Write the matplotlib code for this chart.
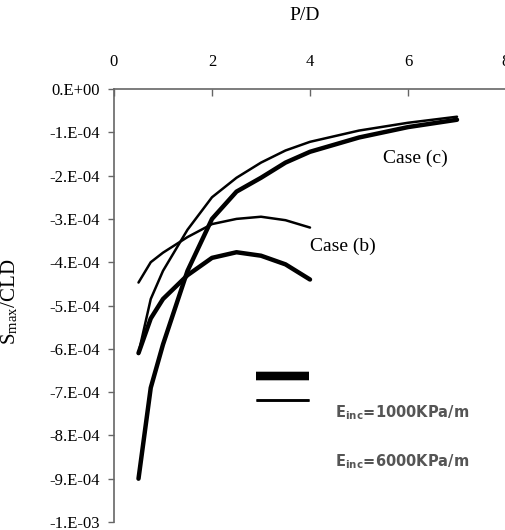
import numpy as np
import matplotlib
matplotlib.use("Agg")
from matplotlib import pyplot as plt
from matplotlib.lines import Line2D
from matplotlib.ticker import FuncFormatter

plt.rcParams['font.family'] = ['Liberation Serif', 'DejaVu Serif']
plt.rcParams['mathtext.fontset'] = 'stix'

# P/D values
pd_c = [0.5, 0.75, 1.0, 1.5, 2.0, 2.5, 3.0, 3.5, 4.0, 5.0, 6.0, 7.0]
pd_b = [0.5, 0.75, 1.0, 1.5, 2.0, 2.5, 3.0, 3.5, 4.0]

# Smax/CLD, case (c)
case_c_1000 = [-9.0e-4, -6.9e-4, -5.9e-4, -4.2e-4, -3.0e-4, -2.37e-4, -2.05e-4,
               -1.70e-4, -1.45e-4, -1.12e-4, -0.88e-4, -0.71e-4]
case_c_6000 = [-6.1e-4, -4.85e-4, -4.2e-4, -3.25e-4, -2.5e-4, -2.05e-4, -1.70e-4,
               -1.42e-4, -1.22e-4, -0.96e-4, -0.78e-4, -0.64e-4]
# Smax/CLD, case (b)
case_b_1000 = [-6.1e-4, -5.3e-4, -4.85e-4, -4.3e-4, -3.9e-4, -3.77e-4, -3.85e-4,
               -4.05e-4, -4.4e-4]
case_b_6000 = [-4.47e-4, -4.0e-4, -3.78e-4, -3.42e-4, -3.12e-4, -3.0e-4, -2.95e-4,
               -3.03e-4, -3.2e-4]

legend_labels = [r"E$_{\mathregular{inc}}$=1000KPa/m", r"E$_{\mathregular{inc}}$=6000KPa/m"]


def excel_sci(v, pos):
    if v == 0:
        return "0.E+00"
    e = int(np.floor(np.log10(abs(v)) + 1e-9))
    m = int(round(v / 10**e))
    return "{}.E{}{:02d}".format(m, "-" if e < 0 else "+", abs(e))


fig = plt.figure(figsize=(5.05, 5.30), dpi=100)
ax = fig.add_axes([114/505, 1 - 522/530, 392/505, 433/530])

thick = 3.2
thin = 1.8
ax.plot(pd_c, case_c_1000, color='black', lw=thick, solid_capstyle='round')
ax.plot(pd_c, case_c_6000, color='black', lw=thin, solid_capstyle='round')
ax.plot(pd_b, case_b_1000, color='black', lw=thick, solid_capstyle='round')
ax.plot(pd_b, case_b_6000, color='black', lw=thin, solid_capstyle='round')

ax.set_xlim(0, 8)
ax.set_ylim(-1e-3, 0)
ax.set_xticks([0, 2, 4, 6, 8])
ax.set_yticks(np.arange(0, -1.05e-3, -1e-4))
ax.yaxis.set_major_formatter(FuncFormatter(excel_sci))

ax.xaxis.tick_top()
ax.xaxis.set_label_position('top')
ax.set_xlabel("P/D", fontsize=14)
ax.xaxis.set_label_coords(0.487, 1.159)
ax.tick_params(axis='x', direction='in', length=5, width=1, color='#666666',
               labelsize=12, pad=14)
ax.tick_params(axis='y', direction='out', length=4, width=1, color='#666666',
               labelsize=12, pad=6)
for s in ['right', 'bottom']:
    ax.spines[s].set_visible(False)
for s in ['left', 'top']:
    ax.spines[s].set_color('#666666')
    ax.spines[s].set_linewidth(1.2)

ax.set_ylabel(r"S$_{\mathregular{max}}$/CLD", fontsize=15)
ax.yaxis.set_label_coords(-0.24, 0.51)

ax.text(6.16, -1.59e-4, "Case (c)", fontsize=14, ha='center', va='center')
ax.text(4.67, -3.64e-4, "Case (b)", fontsize=14, ha='center', va='center')

handles = [Line2D([], [], color='black', lw=6, solid_capstyle='butt'),
           Line2D([], [], color='black', lw=1.8, solid_capstyle='butt')]
leg = ax.legend(handles, [" ", " "], loc='center',
                bbox_to_anchor=(284/505, 1 - 389.5/530), bbox_transform=fig.transFigure,
                frameon=False, fontsize=10, handlelength=3.8, handletextpad=0,
                labelspacing=0.75, borderpad=0)
ax.add_artist(leg)

for i, lab in enumerate(legend_labels):
    fig.text(335/505, 1 - (413 + 49*i)/530, lab, family='DejaVu Sans', fontsize=10.5,
             fontweight='bold', color='#555555', va='center', ha='left')

fig.savefig("out.png", dpi=100)
